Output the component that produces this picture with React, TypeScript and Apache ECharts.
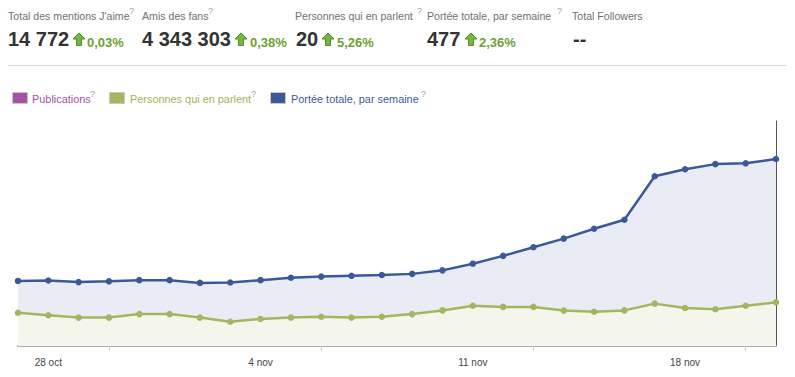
import React, { useEffect, useRef } from 'react';
import * as echarts from 'echarts';

const categories = [
  '27 oct', '28 oct', '29 oct', '30 oct', '31 oct',
  '1 nov', '2 nov', '3 nov', '4 nov', '5 nov', '6 nov', '7 nov', '8 nov', '9 nov', '10 nov',
  '11 nov', '12 nov', '13 nov', '14 nov', '15 nov', '16 nov', '17 nov', '18 nov', '19 nov', '20 nov', '21 nov',
];

// Portée totale, par semaine
const reach = [166, 167, 163, 165, 168, 168, 161, 162, 168, 174, 177, 179, 181, 184, 193, 210, 230, 252, 274, 299, 322, 433, 451, 464, 466, 477];

// Personnes qui en parlent
const talking = [15.2, 14.1, 13.0, 13.0, 14.6, 14.6, 13.0, 11.1, 12.4, 13.0, 13.4, 13.0, 13.4, 14.6, 16.3, 18.4, 17.9, 17.9, 16.2, 15.7, 16.3, 19.4, 17.4, 16.8, 18.4, 20.0];

const headerLabels = ["Total des mentions J'aime", 'Amis des fans', 'Personnes qui en parlent', 'Portée totale, par semaine', 'Total Followers'];
const headerValues = ['14 772', '4 343 303', '20', '477', '--'];
const headerChanges = ['0,03%', '0,38%', '5,26%', '2,36%', ''];

const legendNames = ['Publications', 'Personnes qui en parlent', 'Portée totale, par semaine'];

const FONT = '"Liberation Sans", Arial, sans-serif';
const BLUE = '#3b5998';
const GREEN = '#a3b65f';
const PURPLE = '#a650a6';

export default function App() {
  const ref = useRef<HTMLDivElement>(null);

  useEffect(() => {
    if (!ref.current) return;
    const chart = echarts.init(ref.current, null, { renderer: 'svg' });

    const labelX = [8, 142, 295, 427, 572];
    const qX = [129, 208, 417, 557, -1];
    const valueX = [8, 142, 296, 427, 573];
    const arrowX = [73, 235, 322, 465];
    const pctX = [87, 250, 337, 479];

    const graphic: any[] = [];
    headerLabels.forEach((t, i) => {
      graphic.push({
        type: 'text', x: labelX[i], y: 16,
        style: { text: t, fill: '#707070', font: `10.6px ${FONT}`, verticalAlign: 'middle' },
      });
      if (qX[i] > 0) {
        graphic.push({
          type: 'text', x: qX[i], y: 11,
          style: { text: '?', fill: '#a0a0a0', font: `9px ${FONT}`, verticalAlign: 'middle' },
        });
      }
      graphic.push({
        type: 'text', x: valueX[i], y: 39,
        style: { text: headerValues[i], fill: '#333333', font: `bold 20px ${FONT}`, verticalAlign: 'middle' },
      });
      if (headerChanges[i]) {
        graphic.push({
          type: 'polygon', x: arrowX[i], y: 33,
          shape: { points: [[6, 0], [12, 6], [8.5, 6], [8.5, 12.5], [3.5, 12.5], [3.5, 6], [0, 6]] },
          style: { fill: '#74b843', stroke: '#4f8f27', lineWidth: 1 },
        });
        graphic.push({
          type: 'text', x: pctX[i], y: 42,
          style: { text: headerChanges[i], fill: '#6f9f35', font: `bold 13px ${FONT}`, verticalAlign: 'middle' },
        });
      }
    });

    graphic.push({
      type: 'line', shape: { x1: 8, y1: 65.5, x2: 786, y2: 65.5 },
      style: { stroke: '#d8d8d8', lineWidth: 1 },
    });

    const legendBoxX = [12, 109, 270];
    const legendTextX = [32, 130, 291];
    const legendQX = [90, 251, 421];
    const legendCols = [PURPLE, GREEN, BLUE];
    const legendTextCols = [PURPLE, '#a0b35a', '#3f58a0'];
    legendNames.forEach((n, i) => {
      graphic.push({
        type: 'rect', shape: { x: legendBoxX[i] + 0.5, y: 92.5, width: 15, height: 11 },
        style: { fill: legendCols[i], stroke: '#c8c8c8', lineWidth: 1 },
      });
      graphic.push({
        type: 'text', x: legendTextX[i], y: 99,
        style: { text: n, fill: legendTextCols[i], font: `10.9px ${FONT}`, verticalAlign: 'middle' },
      });
      graphic.push({
        type: 'text', x: legendQX[i], y: 94,
        style: { text: '?', fill: '#a0a0a0', font: `9px ${FONT}`, verticalAlign: 'middle' },
      });
    });

    chart.setOption({
      animation: false,
      grid: { left: 18, right: 19, top: 121, bottom: 31, containLabel: false },
      graphic,
      xAxis: {
        type: 'category',
        data: categories,
        boundaryGap: false,
        axisLine: { show: true, lineStyle: { color: '#ababab', width: 2 } },
        axisTick: {
          show: true, length: 5, interval: (idx: number) => idx % 7 === 3,
          lineStyle: { color: '#cccccc', width: 1 },
        },
        axisLabel: {
          interval: (idx: number) => idx % 7 === 1,
          color: '#444444', fontSize: 10, fontFamily: FONT, margin: 11,
        },
        splitLine: { show: false },
      },
      yAxis: [
        {
          type: 'value', min: 0, max: 574, position: 'right',
          axisLine: { show: true, lineStyle: { color: '#555555', width: 1 } },
          axisTick: { show: false }, axisLabel: { show: false }, splitLine: { show: false },
        },
        {
          type: 'value', min: 0, max: 103, position: 'left',
          axisLine: { show: false }, axisTick: { show: false }, axisLabel: { show: false }, splitLine: { show: false },
        },
      ],
      series: [
        {
          name: 'Portée totale, par semaine', type: 'line', yAxisIndex: 0, data: reach,
          symbol: 'circle', symbolSize: 6.5,
          lineStyle: { color: BLUE, width: 2.5 },
          itemStyle: { color: BLUE },
          areaStyle: { color: '#e9ecf5', opacity: 1 },
        },
        {
          name: 'Personnes qui en parlent', type: 'line', yAxisIndex: 1, data: talking,
          symbol: 'circle', symbolSize: 6.5,
          lineStyle: { color: GREEN, width: 2.5 },
          itemStyle: { color: GREEN },
          areaStyle: { color: '#f4f6ec', opacity: 1 },
        },
      ],
    });

    return () => chart.dispose();
  }, []);

  return (
    <div
      ref={ref}
      style={{ position: 'absolute', left: 0, top: 0, width: 795, height: 377, background: '#ffffff' }}
    />
  );
}
